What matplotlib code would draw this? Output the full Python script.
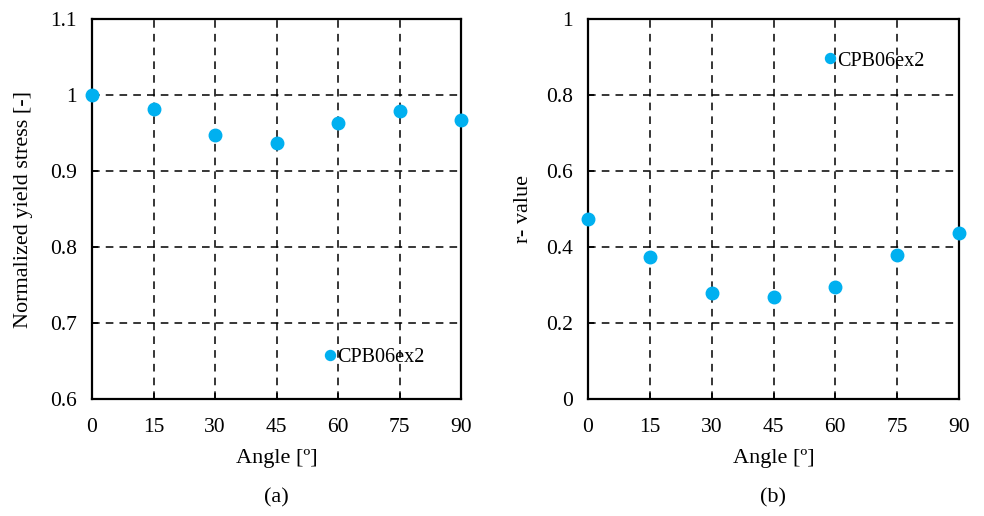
import matplotlib
matplotlib.use('Agg')
import matplotlib.pyplot as plt

plt.rcParams['font.family'] = ['Liberation Serif', 'DejaVu Serif']
plt.rcParams['font.size'] = 16

angles = [0, 15, 30, 45, 60, 75, 90]
yield_stress = [1.0, 0.982, 0.947, 0.937, 0.963, 0.979, 0.967]
r_value = [0.474, 0.374, 0.279, 0.269, 0.296, 0.380, 0.438]
series_name = 'CPB06ex2'
blue = '#00B0F0'

W, H = 984, 516
fig = plt.figure(figsize=(W / 100, H / 100), dpi=100)
ax1 = fig.add_axes([92 / W, 1 - 399 / H, 369 / W, 380 / H])
ax2 = fig.add_axes([588 / W, 1 - 399 / H, 371 / W, 380 / H])


def style(ax):
    ax.set_xlim(0, 90)
    ax.set_xticks(angles)
    ax.grid(True, color='black', linestyle=(0, (5, 4)), linewidth=1.1)
    ax.set_axisbelow(True)
    for s in ax.spines.values():
        s.set_linewidth(1.6)
        s.set_color('black')
    ax.tick_params(direction='in', length=4, width=1.2, labelsize=15.5)
    ax.tick_params(axis='x', pad=14)
    ax.tick_params(axis='y', pad=11)
    ax.set_xlabel('Angle [º]', labelpad=8)


def legend_at(ax, x, y):
    # single-marker legend, placed by figure pixel position
    ax.legend(loc='center left', bbox_to_anchor=(x / W, 1 - y / H),
              bbox_transform=fig.transFigure, frameon=False, borderpad=0,
              borderaxespad=0, handlelength=0.6, handletextpad=0.05,
              markerscale=0.8, fontsize=14.5)


ax1.plot(angles, yield_stress, 'o', color=blue, ms=9, clip_on=False,
         zorder=5, label=series_name)
style(ax1)
ax1.set_ylim(0.6, 1.1)
ax1.set_yticks([0.6, 0.7, 0.8, 0.9, 1.0, 1.1])
ax1.set_yticklabels(['0.6', '0.7', '0.8', '0.9', '1', '1.1'])
ax1.set_ylabel('Normalized yield stress [-]', labelpad=12)
legend_at(ax1, 324, 357)
fig.text(276 / W, 1 - 498 / H, '(a)', ha='center', va='center')

ax2.plot(angles, r_value, 'o', color=blue, ms=9, clip_on=False,
         zorder=5, label=series_name)
style(ax2)
ax2.set_ylim(0, 1)
ax2.set_yticks([0, 0.2, 0.4, 0.6, 0.8, 1.0])
ax2.set_yticklabels(['0', '0.2', '0.4', '0.6', '0.8', '1'])
ax2.set_ylabel('r- value', labelpad=9)
legend_at(ax2, 824, 61)
fig.text(773 / W, 1 - 498 / H, '(b)', ha='center', va='center')

fig.savefig('out.png', dpi=100)
